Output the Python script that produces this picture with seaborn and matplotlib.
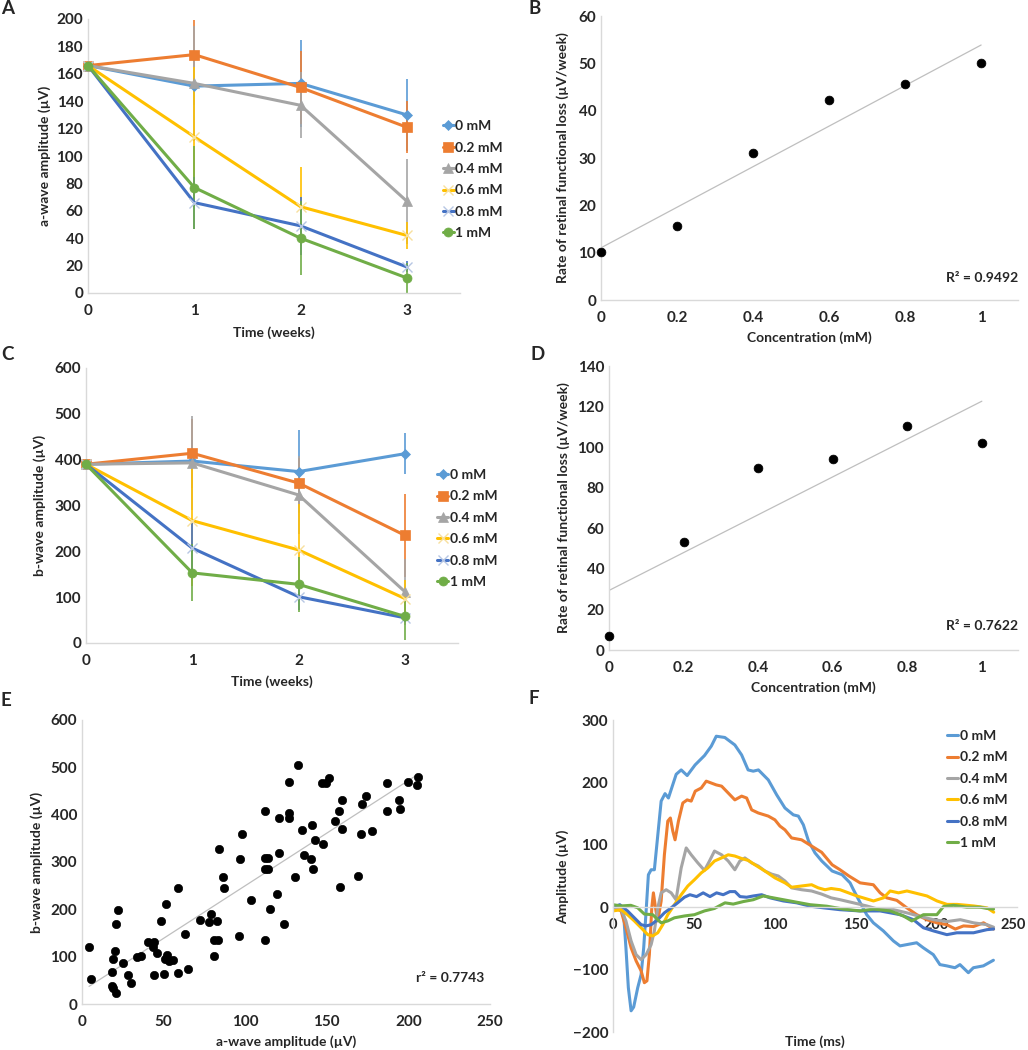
import numpy as np
import pandas as pd
import matplotlib
matplotlib.use("Agg")
import matplotlib.pyplot as plt
import matplotlib.transforms as mtrans
import seaborn as sns

sns.set_style("white")
plt.rcParams['font.family'] = ['Lato', 'DejaVu Sans']
plt.rcParams['font.weight'] = 'bold'
plt.rcParams['axes.labelweight'] = 'bold'

conc_labels = ['0 mM', '0.2 mM', '0.4 mM', '0.6 mM', '0.8 mM', '1 mM']
colors = ['#5B9BD5', '#ED7D31', '#A5A5A5', '#FFC000', '#4472C4', '#70AD47']
markers = ['D', 's', '^', 'x', 'x', 'o']
weeks = [0, 1, 2, 3]

# A: a-wave amplitude (uV) per week, one row per concentration
a_wave = [[166, 151, 153, 130],
          [166, 174, 150, 121],
          [166, 153, 137, 67],
          [166, 114, 63, 42],
          [166, 66, 49, 19],
          [166, 77, 40, 11]]
a_err = [[18, 14, 32, 26],
         [18, 25, 27, 19],
         [18, 42, 24, 31],
         [18, 51, 29, 10],
         [18, 19, 21, 4],
         [20, 30, 27, 11]]

# C: b-wave amplitude (uV)
b_wave = [[390, 397, 374, 413],
          [390, 414, 349, 235],
          [390, 393, 323, 112],
          [390, 267, 203, 97],
          [390, 207, 101, 55],
          [390, 153, 128, 58]]
b_err = [[40, 45, 90, 45],
         [40, 75, 55, 90],
         [40, 103, 85, 72],
         [40, 143, 100, 40],
         [40, 60, 30, 10],
         [46, 62, 60, 51]]

# B / D: rate of loss vs concentration
conc = [0, 0.2, 0.4, 0.6, 0.8, 1]
rate_a = [10.2, 15.7, 31.0, 42.2, 45.6, 50.0]
rate_b = [6.7, 53.0, 89.8, 94.0, 110.6, 101.9]

# E: b-wave vs a-wave
e_a = [4.3, 5.7, 18.6, 19.0, 21.1, 18.6, 18.8, 20.0, 20.6, 22.1, 24.9, 28.2, 29.8,
       33.7, 36.2, 40.3, 43.5, 44.2, 43.9, 46.2, 48.2, 50.3, 51.1, 51.7, 52.3, 53.4,
       55.8, 58.9, 58.7, 63.2, 65.0, 72.6, 77.9, 78.9, 80.7, 82.8, 83.6, 83.8, 86.5,
       87.3, 80.9, 96.3, 96.7, 98.1, 103.4, 112.0, 112.4, 112.4, 113.7, 112.4, 114.1,
       115.3, 119.4, 120.8, 121.0, 123.9, 126.7, 127.1, 127.1, 130.8, 132.1, 134.7,
       136.1, 140.2, 141.0, 141.7, 142.7, 147.6, 147.0, 149.8, 151.1, 155.2, 157.6,
       158.0, 159.6, 159.6, 169.3, 170.9, 171.7, 173.8, 178.0, 187.0, 187.0, 194.0,
       194.8, 199.9, 205.0, 206.1]
e_b = [121, 53, 38, 33, 24, 68, 96, 113, 168, 199, 87, 61, 45,
       100, 102, 131, 120, 132, 62, 107, 176, 63, 96, 212, 103, 91,
       92, 66, 245, 147, 74, 178, 173, 190, 136, 176, 136, 328, 269,
       245, 102, 144, 307, 359, 220, 135, 408, 309, 309, 285, 285,
       200, 233, 392, 320, 170, 392, 470, 404, 269, 504, 368,
       315, 307, 379, 285, 346, 337, 467, 467, 478, 386, 408,
       247, 430, 370, 270, 359, 423, 440, 366, 467, 408, 430,
       413, 470, 462, 480]

# F: ERG traces (time ms, amplitude uV)
f0_t = [0, 4, 6.6, 8, 9.5, 11.2, 12.8, 15.3, 17.4, 19, 20.5, 21.9, 23.6, 25.6, 29.8,
        32.2, 34.3, 39.1, 42.2, 45.9, 50.8, 56.6, 60.8, 63.9, 69.2, 75.4, 79.6, 83.6,
        86.8, 90, 96.1, 101.3, 106.4, 111.6, 114.7, 117.8, 121, 125, 129.2, 135.6,
        141.8, 146.7, 148.8, 153, 157, 161.1, 167.3, 173.5, 177.6, 181.7, 187.9, 192,
        198.2, 202.3, 206.5, 211.6, 214.7, 219.9, 223, 229.2, 235.4]
f0_v = [0, 2, -12, -65, -129, -166, -160, -129, -108, -65, -6, 52, 60, 60, 170,
        182, 175, 213, 220, 211, 228, 243, 258, 274, 272, 260, 244, 220,
        218, 220, 204, 180, 159, 148, 146, 132, 106, 87, 74, 58,
        52, 39, 28, 7, -12, -25, -38, -54, -62, -60, -57, -65,
        -76, -92, -94, -97, -92, -105, -97, -94, -85]
f1_t = [0, 5, 8, 11.2, 14.3, 17.4, 19.4, 21, 22.5, 24, 25, 26.3, 27.7, 29.8, 31.8,
        33.9, 35.5, 37, 38.4, 40.5, 43.2, 45.9, 48.4, 50.9, 54.6, 57.7, 60.8, 63.9,
        67.2, 71.3, 75.4, 79.6, 82.7, 85.8, 89.9, 96.1, 100.2, 103.3, 106.4, 110.5,
        116.7, 122.9, 129.1, 135.6, 140.5, 146, 152.9, 161.1, 165.3, 169.4, 175.6,
        181.8, 188, 194.2, 200.4, 206.6, 211.8, 216.9, 223.1, 229.3, 232.4, 235.5]
f1_v = [0, -6, -33, -65, -86, -102, -121, -118, -76, -1, 23, -1, -22, 10, 84,
        138, 143, 122, 108, 138, 167, 172, 170, 186, 191, 202, 199, 196,
        194, 183, 172, 178, 175, 156, 151, 146, 140, 130, 124, 111,
        108, 98, 88, 68, 60, 50, 39, 36, 23, 15, 11,
        -1, -12, -20, -25, -28, -35, -30, -31, -25, -30, -35]
f2_t = [0, 5, 8, 11.2, 14.3, 17.4, 20.5, 23.6, 25.6, 27.7, 29.8, 32.9, 36, 39, 42.2,
        45.3, 48.4, 52.5, 56.6, 59.7, 62.8, 67.2, 71.3, 75.4, 78.5, 81.6, 85.8, 89.9,
        94, 98.2, 102.3, 106.4, 110.5, 116.7, 122.9, 129.1, 135, 140.5, 148.8, 157,
        165.3, 173.6, 181.8, 190.1, 198.4, 206.6, 214.9, 223.1, 231.4, 235.5]
f2_v = [0, -4, -22, -54, -76, -84, -76, -60, -38, -1, 23, 28, 23, 12, 63,
        95, 84, 71, 59, 74, 90, 84, 74, 60, 74, 79, 71, 66,
        58, 53, 50, 42, 31, 28, 26, 21, 15, 12, 7, 2,
        -4, -4, -9, -15, -20, -23, -20, -25, -28, -32]
f3_t = [0, 5, 9, 13.2, 17.4, 21.5, 24.6, 27.7, 30.8, 33.9, 38, 42.2, 46.3, 50.4,
        54.6, 58.7, 62.8, 67.2, 71.3, 75.4, 79.6, 83.7, 87.8, 94, 100.2, 106.4, 110.5,
        116.7, 122.9, 127, 131.2, 135, 140.5, 150.9, 161.2, 167.4, 171.5, 176.7,
        181.9, 188.1, 194.3, 200.5, 206.7, 212.9, 223.2, 231.5, 235.6]
f3_v = [-6, -4, -12, -22, -33, -44, -46, -41, -28, -12, 4, 20, 34, 44,
        55, 63, 74, 79, 84, 82, 78, 75, 68, 58, 47, 39, 32,
        34, 36, 31, 28, 30, 28, 18, 10, 15, 26, 23,
        26, 22, 18, 10, 4.5, 4.5, 2, -1, -8]
f4_t = [0, 4.2, 9, 13.2, 17.4, 20.5, 23.6, 27.7, 31.8, 36, 40, 44.2, 47.6, 51.7,
        55.8, 60, 64.1, 68.2, 72.3, 75.5, 78.6, 82.7, 86.8, 92, 97.2, 105.4, 113.7,
        122, 130.2, 140.5, 152.9, 165.3, 177.7, 185.9, 192.1, 198.3, 206.6, 212.8,
        223.1, 231.4, 235.5]
f4_v = [0, 4, -6, -17, -28, -30, -28, -20, -9, -1, 7, 16, 20, 17,
        23, 17, 23, 20, 25, 25, 17, 16, 18, 20, 15, 10, 7,
        1.6, -1, -4, -6, -6, -12, -20, -33, -38, -44, -41,
        -41, -36, -35]
f5_t = [0, 5, 11, 15.3, 19.4, 24.6, 27.7, 29.8, 33.9, 38, 44.3, 50.4, 56.6, 62.8,
        69.3, 74.4, 80.6, 86.8, 93, 99.2, 105.4, 113.7, 122, 132.3, 142.6, 152.9,
        161.2, 171.5, 179.7, 184.9, 192.1, 200.4, 204.5, 210.7, 219, 227.2, 231.4, 235.5]
f5_v = [4, 2, 3, -1, -11, -12, -20, -25, -22, -17, -14, -12, -6, -2,
        7, 5, 9, 12, 18, 15, 12, 8, 4, 1.6, -3, -6,
        -3, -6, -14, -22, -12, -12, 1, 3, 0, 0, -2, -3]

W, H = 1028, 1050
fig = plt.figure(figsize=(W / 100, H / 100), dpi=100)
AXIS_GREY = '#D9D9D9'
FS = 10      # axis titles, legends
TFS = 11     # tick labels


def add_ax(l, t, r, b):
    return fig.add_axes([l / W, 1 - b / H, (r - l) / W, (b - t) / H])


def excel_style(ax):
    sns.despine(ax=ax)
    for s in ['left', 'bottom']:
        ax.spines[s].set_color(AXIS_GREY)
        ax.spines[s].set_linewidth(1.0)
    ax.tick_params(axis='x', length=0, pad=8, labelsize=TFS)
    ax.tick_params(axis='y', length=0, pad=3.5, labelsize=TFS)
    ax.grid(False)


def place_labels(ax, xlab, ylab, xlab_y, ylab_x, ylab_y=0.5):
    ax.set_xlabel(xlab, fontsize=FS)
    ax.set_ylabel(ylab, fontsize=FS)
    ax.xaxis.label.set_va('center')
    ax.yaxis.label.set_va('center')
    ax.xaxis.set_label_coords(0.5, xlab_y)
    ax.yaxis.set_label_coords(ylab_x, ylab_y)


def excel_legend(ax, xy):
    h, l = ax.get_legend_handles_labels()
    ax.legend(h, l, loc='upper left', bbox_to_anchor=xy, frameon=False,
              borderaxespad=0, borderpad=0, handlelength=0.8, handletextpad=0.1,
              labelspacing=0.68, fontsize=FS)


def time_course(ax, vals, errs, ymax, ystep, ylab, leg_xy, ylab_x, xlab_y):
    for i in range(6):
        lo = [v - e for v, e in zip(vals[i], errs[i])]
        hi = [v + e for v, e in zip(vals[i], errs[i])]
        ax.vlines(weeks, lo, hi, color=colors[i], lw=1.2, zorder=1)
    for i in range(6):
        if markers[i] == 'x':
            mk = dict(marker='x', markersize=7, markeredgewidth=1.0,
                      markeredgecolor=sns.light_palette(colors[i], 4)[1])
        else:
            mk = dict(marker=markers[i], markersize=6.5 if markers[i] != 'D' else 5.5,
                      markeredgecolor=colors[i], markeredgewidth=0.5)
        sns.lineplot(x=weeks, y=vals[i], color=colors[i], lw=2.2, label=conc_labels[i],
                     ax=ax, clip_on=False, zorder=3, **mk)
    ax.set_xlim(0, 3.5)
    ax.set_ylim(0, ymax)
    ax.set_xticks(weeks)
    ax.set_yticks(np.arange(0, ymax + 1, ystep))
    excel_style(ax)
    excel_legend(ax, leg_xy)
    place_labels(ax, 'Time (weeks)', ylab, xlab_y, ylab_x)


def rate_plot(ax, y, ymax, r2text, ylab_x, r2_y):
    sns.regplot(x=conc, y=y, scatter=False, ci=None, color='#BFBFBF',
                line_kws={'lw': 0.9}, ax=ax, truncate=True)
    sns.scatterplot(x=conc, y=y, color='black', s=40, edgecolor='black',
                    ax=ax, zorder=3, clip_on=False)
    ax.set_xlim(0, 1.097)
    ax.set_ylim(0, ymax)
    ax.set_xticks(conc)
    ax.set_xticklabels(['0', '0.2', '0.4', '0.6', '0.8', '1'])
    ax.set_yticks(np.arange(0, ymax + 1, 10 if ymax == 60 else 20))
    excel_style(ax)
    place_labels(ax, 'Concentration (mM)',
                 'Rate of retinal functional loss (\u00b5V/week)', -0.134, ylab_x)
    ax.text(1.0, r2_y, r2text, transform=ax.transAxes, ha='right', va='center',
            fontsize=FS)


# A
axA = add_ax(88, 19, 460, 293)
time_course(axA, a_wave, a_err, 200, 20, 'a-wave amplitude (\u00b5V)',
            (0.954, 0.631), -0.116, -0.146)

# B
axB = add_ax(601, 16, 1018, 300)
rate_plot(axB, rate_a, 60, 'R\u00b2 = 0.9492', -0.091, 0.077)

# C
axC = add_ax(86, 368, 458, 643)
time_course(axC, b_wave, b_err, 600, 100, 'b-wave amplitude (\u00b5V)',
            (0.944, 0.633), -0.124, -0.142)

# D
axD = add_ax(609, 366, 1018, 650)
rate_plot(axD, rate_b, 140, 'R\u00b2 = 0.7622', -0.112, 0.085)

# E
axE = add_ax(82, 720, 490, 1004)
sns.regplot(x=e_a, y=e_b, scatter=False, ci=None, color='#BFBFBF',
            line_kws={'lw': 0.9}, ax=axE, truncate=True)
sns.scatterplot(x=e_a, y=e_b, color='black', s=36, edgecolor='black', ax=axE, zorder=3)
axE.set_xlim(0, 250)
axE.set_ylim(0, 600)
axE.set_xticks(np.arange(0, 251, 50))
axE.set_yticks(np.arange(0, 601, 100))
excel_style(axE)
place_labels(axE, 'a-wave amplitude (\u00b5V)', 'b-wave amplitude (\u00b5V)', -0.134, -0.11)
axE.text(0.985, 0.092, 'r\u00b2 = 0.7743', transform=axE.transAxes, ha='right',
         va='center', fontsize=FS)

# F
axF = add_ax(613, 720, 1017, 1032)
f_series = [(f0_t, f0_v), (f1_t, f1_v), (f2_t, f2_v), (f3_t, f3_v), (f4_t, f4_v), (f5_t, f5_v)]
for lab, col, (t, v) in zip(conc_labels, colors, f_series):
    sns.lineplot(x=t, y=v, color=col, lw=2.2, label=lab, ax=axF,
                 estimator=None, sort=False)
axF.set_xlim(0, 250)
axF.set_ylim(-200, 300)
axF.set_xticks(np.arange(0, 251, 50))
axF.set_yticks(np.arange(-200, 301, 100))
excel_style(axF)
axF.tick_params(axis='x', labelsize=10.5)
axF.spines['bottom'].set_position(('data', 0))
# keep the last tick label inside the figure edge
last = axF.get_xticklabels()[-1]
last.set_transform(last.get_transform() +
                   mtrans.ScaledTranslation(-4 / 100, 0, fig.dpi_scale_trans))
excel_legend(axF, (0.827, 0.968))
place_labels(axF, 'Time (ms)', 'Amplitude (\u00b5V)', -0.032, -0.124, 0.497)

# panel letters
for letter, x, y in [('A', 1, 9), ('B', 529, 8), ('C', 1, 355),
                     ('D', 530, 355), ('E', 1, 700), ('F', 529, 699)]:
    fig.text(x / W, 1 - y / H, letter, fontsize=13.5, fontweight='bold', va='center')

fig.savefig('out.png', dpi=100)
